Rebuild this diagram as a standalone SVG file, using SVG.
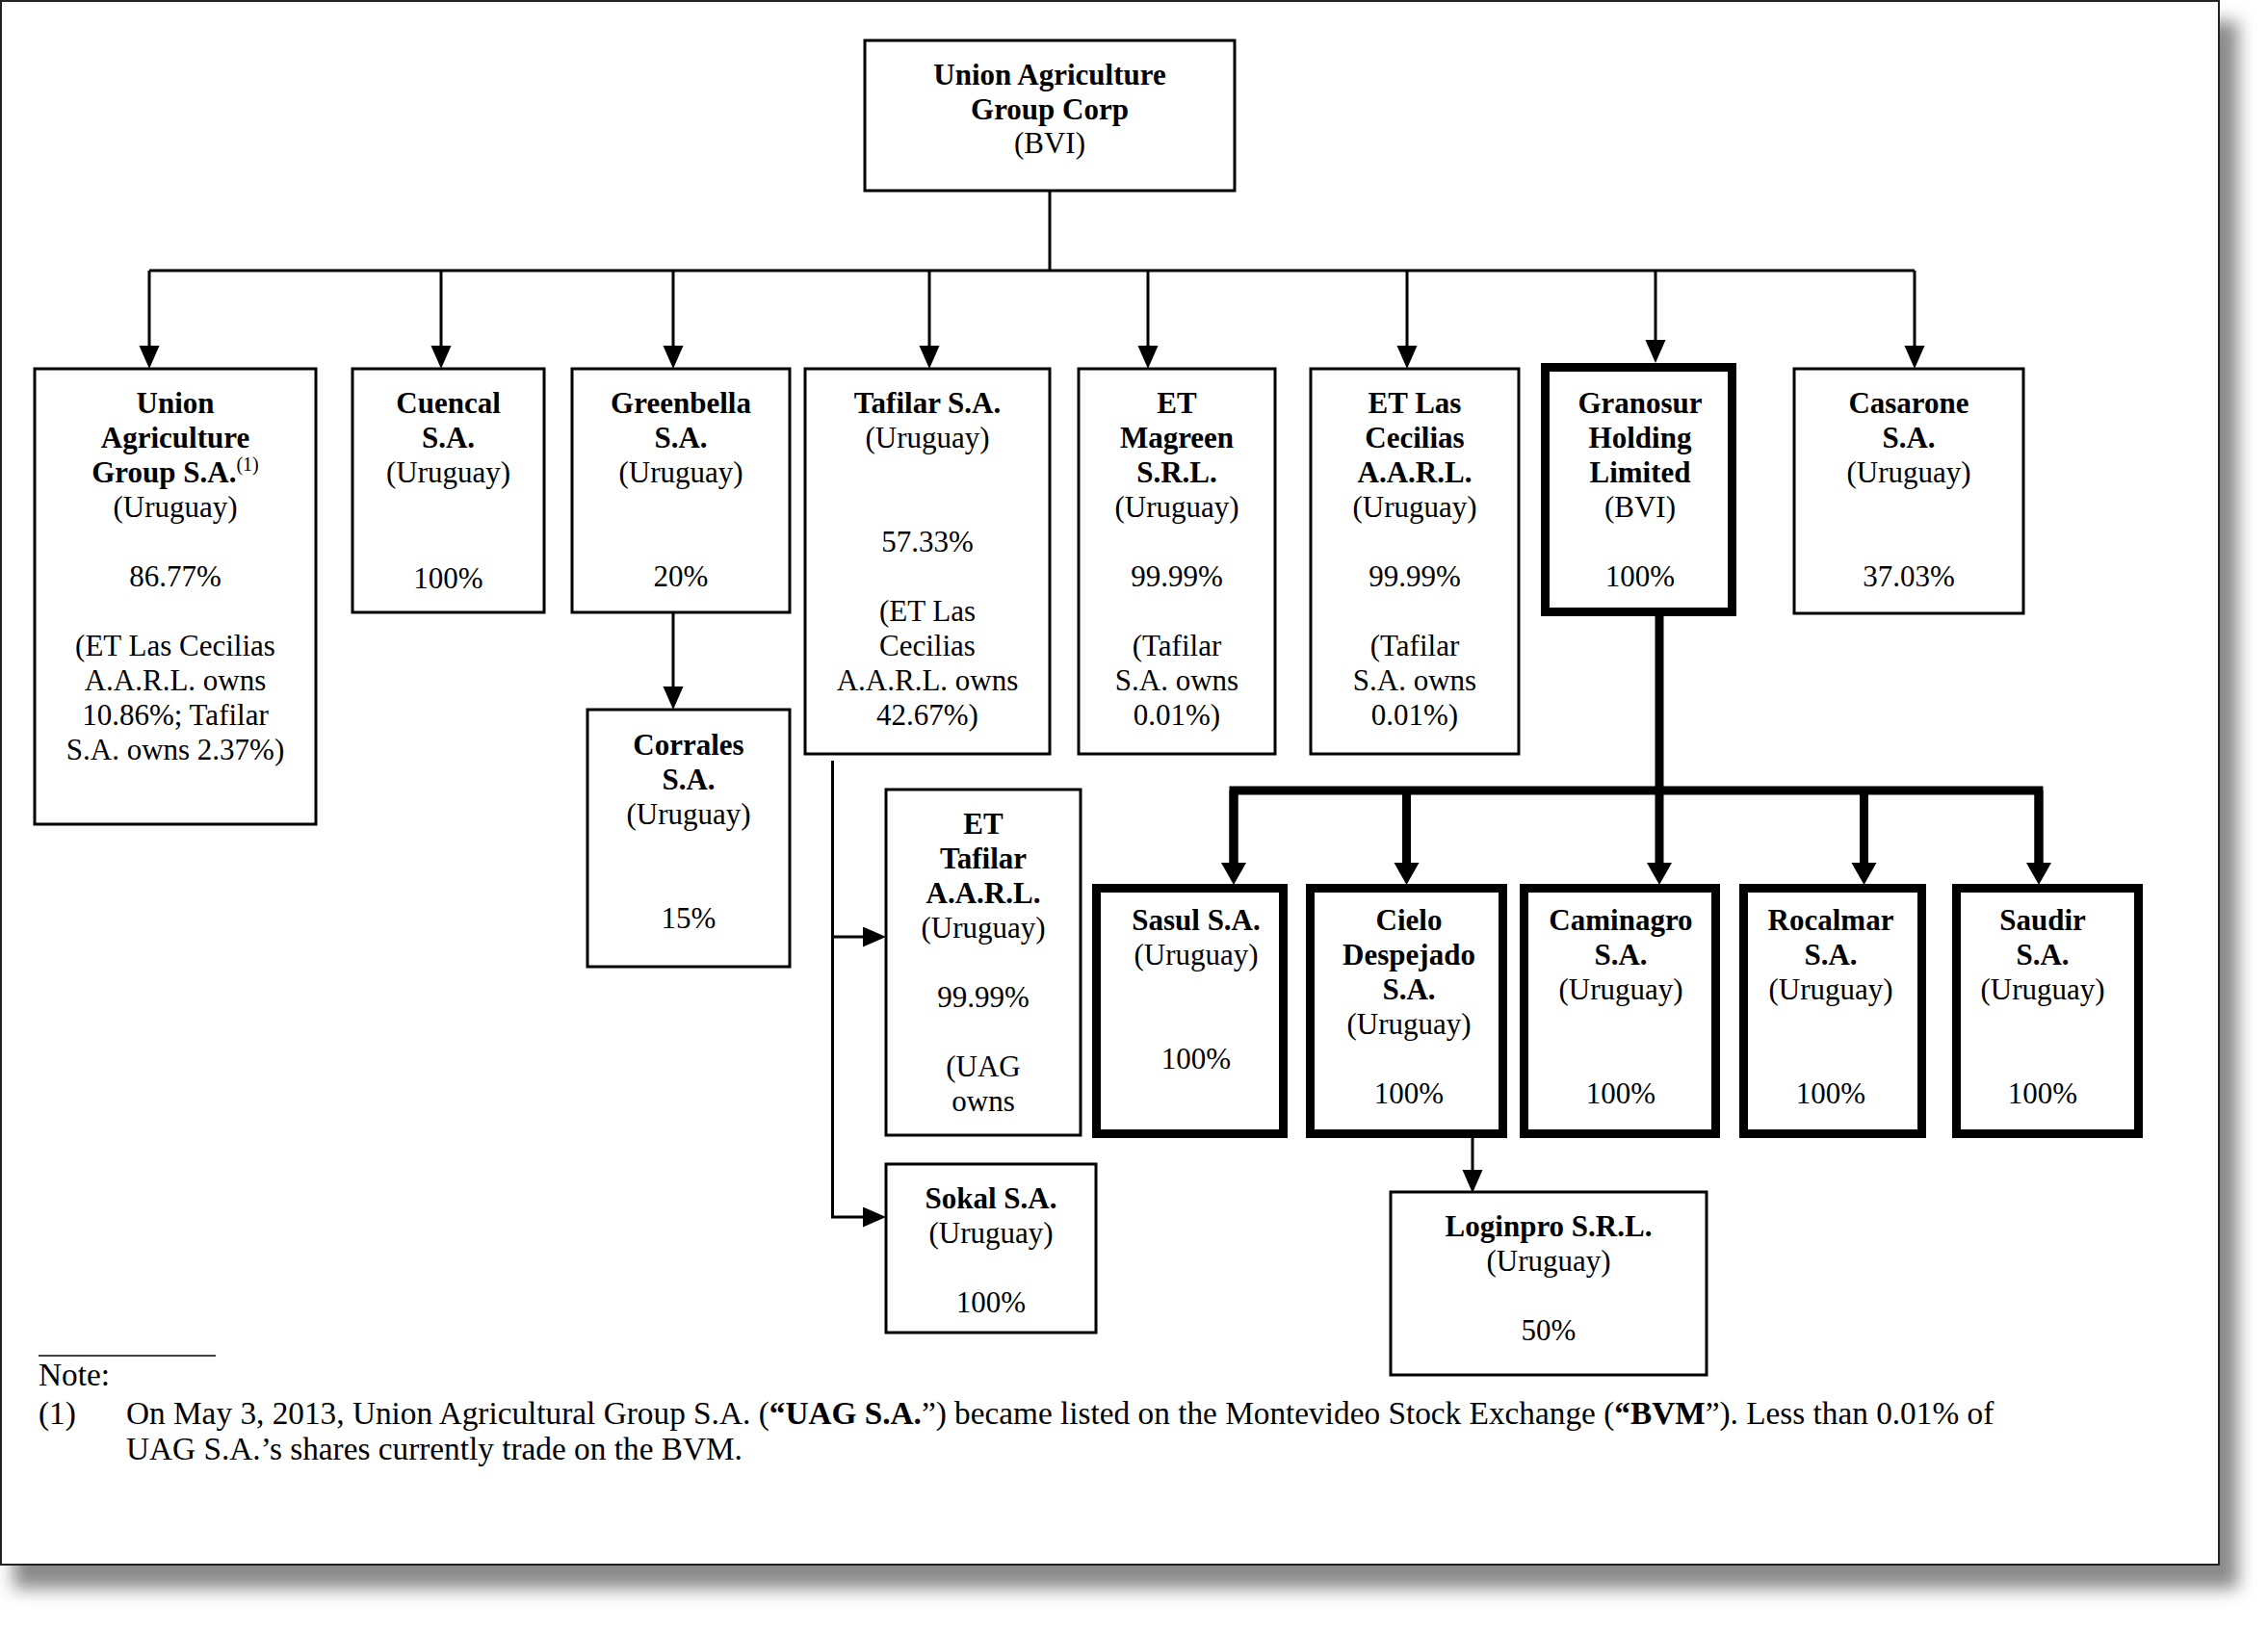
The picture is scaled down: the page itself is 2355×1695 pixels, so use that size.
<svg xmlns="http://www.w3.org/2000/svg" width="2355" height="1695" viewBox="0 0 2355 1695">
<style>
text{font-family:"Liberation Serif","Times New Roman",serif;font-size:31px;fill:#000;text-anchor:middle}
.b{font-weight:bold}
.box{fill:#fff;stroke:#000;stroke-width:3}
.tbox{fill:#fff;stroke:#000;stroke-width:9}
.ln{fill:none;stroke:#000;stroke-width:3}
.tln{fill:none;stroke:#000;stroke-width:9;stroke-linejoin:miter}
.note text{text-anchor:start;font-size:33.3px}
</style>
<defs>
<filter id="sh" x="-5%" y="-5%" width="110%" height="110%"><feGaussianBlur stdDeviation="9"/></filter>
<marker id="ar" markerUnits="userSpaceOnUse" markerWidth="26" markerHeight="22" refX="0" refY="10.5" orient="auto"><path d="M0,0 L24,10.5 L0,21 z" fill="#000"/></marker>
<marker id="tar" markerUnits="userSpaceOnUse" markerWidth="26" markerHeight="28" refX="0" refY="13" orient="auto"><path d="M0,0 L23,13 L0,26 z" fill="#000"/></marker>
</defs>
<rect x="0" y="0" width="2355" height="1695" fill="#fff"/>
<rect x="14" y="22" width="2310" height="1628" fill="#8a8a8a" filter="url(#sh)"/>
<rect x="1" y="1" width="2303" height="1624" fill="#fff" stroke="#222" stroke-width="2"/>

<g id="connectors">
<path class="ln" d="M1090,198 V281 M155,281 H1988"/>
<path class="ln" marker-end="url(#ar)" d="M155,281 V359"/>
<path class="ln" marker-end="url(#ar)" d="M458,281 V359"/>
<path class="ln" marker-end="url(#ar)" d="M699,281 V359"/>
<path class="ln" marker-end="url(#ar)" d="M965,281 V359"/>
<path class="ln" marker-end="url(#ar)" d="M1192,281 V359"/>
<path class="ln" marker-end="url(#ar)" d="M1461,281 V359"/>
<path class="ln" marker-end="url(#ar)" d="M1719,281 V353"/>
<path class="ln" marker-end="url(#ar)" d="M1988,281 V359"/>
<path class="ln" marker-end="url(#ar)" d="M699,637 V713"/>
<path class="ln" d="M864.5,790 V1264"/>
<path class="ln" marker-end="url(#ar)" d="M863,973 H896"/>
<path class="ln" marker-end="url(#ar)" d="M863,1264 H896"/>
<path class="ln" marker-end="url(#ar)" d="M1529,1182 V1215"/>
<path class="tln" d="M1723,640 V821"/>
<path class="tln" d="M1281,896 V821 H2117 V896"/>
<path class="tln" marker-end="url(#tar)" d="M1281,821 V896"/>
<path class="tln" marker-end="url(#tar)" d="M1460.5,821 V896"/>
<path class="tln" marker-end="url(#tar)" d="M1723,821 V896"/>
<path class="tln" marker-end="url(#tar)" d="M1935.5,821 V896"/>
<path class="tln" marker-end="url(#tar)" d="M2117,821 V896"/>
</g>

<g id="n-uagc">
<rect class="box" x="898" y="42" width="384" height="156"/>
<text x="1090" y="88" class="b">Union Agriculture</text>
<text x="1090" y="124" class="b">Group Corp</text>
<text x="1090" y="159">(BVI)</text>
</g>

<g id="n-uagsa">
<rect class="box" x="36" y="383" width="292" height="473"/>
<text x="182" y="429" class="b">Union</text>
<text x="182" y="465" class="b">Agriculture</text>
<text x="182" y="501"><tspan class="b">Group S.A.</tspan><tspan font-size="20" dy="-12">(1)</tspan></text>
<text x="182" y="537">(Uruguay)</text>
<text x="182" y="609">86.77%</text>
<text x="182" y="681">(ET Las Cecilias</text>
<text x="182" y="717">A.A.R.L. owns</text>
<text x="182" y="753">10.86%; Tafilar</text>
<text x="182" y="789">S.A. owns 2.37%)</text>
</g>

<g id="n-cuencal">
<rect class="box" x="366" y="383" width="199" height="253"/>
<text x="465.5" y="429" class="b">Cuencal</text>
<text x="465.5" y="465" class="b">S.A.</text>
<text x="465.5" y="501">(Uruguay)</text>
<text x="465.5" y="611">100%</text>
</g>

<g id="n-greenbella">
<rect class="box" x="594" y="383" width="226" height="253"/>
<text x="707" y="429" class="b">Greenbella</text>
<text x="707" y="465" class="b">S.A.</text>
<text x="707" y="501">(Uruguay)</text>
<text x="707" y="609">20%</text>
</g>

<g id="n-tafilar">
<rect class="box" x="836" y="383" width="254" height="400"/>
<text x="963" y="429" class="b">Tafilar S.A.</text>
<text x="963" y="465">(Uruguay)</text>
<text x="963" y="573">57.33%</text>
<text x="963" y="645">(ET Las</text>
<text x="963" y="681">Cecilias</text>
<text x="963" y="717">A.A.R.L. owns</text>
<text x="963" y="753">42.67%)</text>
</g>

<g id="n-magreen">
<rect class="box" x="1120" y="383" width="204" height="400"/>
<text x="1222" y="429" class="b">ET</text>
<text x="1222" y="465" class="b">Magreen</text>
<text x="1222" y="501" class="b">S.R.L.</text>
<text x="1222" y="537">(Uruguay)</text>
<text x="1222" y="609">99.99%</text>
<text x="1222" y="681">(Tafilar</text>
<text x="1222" y="717">S.A. owns</text>
<text x="1222" y="753">0.01%)</text>
</g>

<g id="n-cecilias">
<rect class="box" x="1361" y="383" width="216" height="400"/>
<text x="1469" y="429" class="b">ET Las</text>
<text x="1469" y="465" class="b">Cecilias</text>
<text x="1469" y="501" class="b">A.A.R.L.</text>
<text x="1469" y="537">(Uruguay)</text>
<text x="1469" y="609">99.99%</text>
<text x="1469" y="681">(Tafilar</text>
<text x="1469" y="717">S.A. owns</text>
<text x="1469" y="753">0.01%)</text>
</g>

<g id="n-granosur">
<rect class="tbox" x="1604.5" y="381.5" width="194" height="254"/>
<text x="1703" y="429" class="b">Granosur</text>
<text x="1703" y="465" class="b">Holding</text>
<text x="1703" y="501" class="b">Limited</text>
<text x="1703" y="537">(BVI)</text>
<text x="1703" y="609">100%</text>
</g>

<g id="n-casarone">
<rect class="box" x="1863" y="383" width="238" height="254"/>
<text x="1982" y="429" class="b">Casarone</text>
<text x="1982" y="465" class="b">S.A.</text>
<text x="1982" y="501">(Uruguay)</text>
<text x="1982" y="609">37.03%</text>
</g>

<g id="n-corrales">
<rect class="box" x="610" y="737" width="210" height="267"/>
<text x="715" y="784" class="b">Corrales</text>
<text x="715" y="820" class="b">S.A.</text>
<text x="715" y="856">(Uruguay)</text>
<text x="715" y="964">15%</text>
</g>

<g id="n-ettafilar">
<rect class="box" x="920" y="820" width="202" height="359"/>
<text x="1021" y="866" class="b">ET</text>
<text x="1021" y="902" class="b">Tafilar</text>
<text x="1021" y="938" class="b">A.A.R.L.</text>
<text x="1021" y="974">(Uruguay)</text>
<text x="1021" y="1046">99.99%</text>
<text x="1021" y="1118">(UAG</text>
<text x="1021" y="1154">owns</text>
</g>

<g id="n-sokal">
<rect class="box" x="920" y="1209" width="218" height="175"/>
<text x="1029" y="1255" class="b">Sokal S.A.</text>
<text x="1029" y="1291">(Uruguay)</text>
<text x="1029" y="1363">100%</text>
</g>

<g id="n-sasul">
<rect class="tbox" x="1138.5" y="922.5" width="194" height="255"/>
<text x="1242" y="966" class="b">Sasul S.A.</text>
<text x="1242" y="1002">(Uruguay)</text>
<text x="1242" y="1110">100%</text>
</g>

<g id="n-cielo">
<rect class="tbox" x="1360.5" y="922.5" width="200" height="255"/>
<text x="1463" y="966" class="b">Cielo</text>
<text x="1463" y="1002" class="b">Despejado</text>
<text x="1463" y="1038" class="b">S.A.</text>
<text x="1463" y="1074">(Uruguay)</text>
<text x="1463" y="1146">100%</text>
</g>

<g id="n-caminagro">
<rect class="tbox" x="1582.5" y="922.5" width="199" height="255"/>
<text x="1683" y="966" class="b">Caminagro</text>
<text x="1683" y="1002" class="b">S.A.</text>
<text x="1683" y="1038">(Uruguay)</text>
<text x="1683" y="1146">100%</text>
</g>

<g id="n-rocalmar">
<rect class="tbox" x="1810.5" y="922.5" width="185" height="255"/>
<text x="1901" y="966" class="b">Rocalmar</text>
<text x="1901" y="1002" class="b">S.A.</text>
<text x="1901" y="1038">(Uruguay)</text>
<text x="1901" y="1146">100%</text>
</g>

<g id="n-saudir">
<rect class="tbox" x="2031.5" y="922.5" width="189" height="255"/>
<text x="2121" y="966" class="b">Saudir</text>
<text x="2121" y="1002" class="b">S.A.</text>
<text x="2121" y="1038">(Uruguay)</text>
<text x="2121" y="1146">100%</text>
</g>

<g id="n-loginpro">
<rect class="box" x="1444" y="1238" width="328" height="190"/>
<text x="1608" y="1284" class="b">Loginpro S.R.L.</text>
<text x="1608" y="1320">(Uruguay)</text>
<text x="1608" y="1392">50%</text>
</g>

<g class="note" id="footnote">
<line x1="40" y1="1408" x2="224" y2="1408" stroke="#000" stroke-width="1.5"/>
<text x="40" y="1439">Note:</text>
<text x="40" y="1479">(1)</text>
<text x="131" y="1479">On May 3, 2013, Union Agricultural Group S.A. (<tspan class="b">“UAG S.A.</tspan>”) became listed on the Montevideo Stock Exchange (<tspan class="b">“BVM</tspan>”). Less than 0.01% of</text>
<text x="131" y="1516">UAG S.A.’s shares currently trade on the BVM.</text>
</g>
</svg>
